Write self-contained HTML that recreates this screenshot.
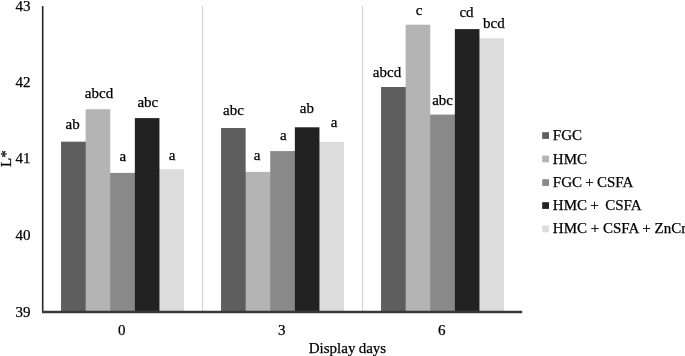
<!DOCTYPE html>
<html><head><meta charset="utf-8"><title>L* chart</title><style>
html,body{margin:0;padding:0;background:#fff;}
body{width:685px;height:356px;overflow:hidden;position:relative;}
svg{position:absolute;left:0;top:0;will-change:transform;}
text{font-family:"Liberation Serif", serif;font-size:15px;fill:#000;stroke:#000;stroke-width:0.25px;word-spacing:-0.5px;}
</style></head><body>
<svg width="685" height="356" viewBox="0 0 685 356">

<line x1="202.60" y1="6" x2="202.60" y2="311.60" stroke="#d2d2d2" stroke-width="1.1"/>
<line x1="362.60" y1="6" x2="362.60" y2="311.60" stroke="#d2d2d2" stroke-width="1.1"/>
<rect x="61.05" y="141.70" width="24.60" height="169.90" fill="#5e5e5e"/>
<rect x="85" y="141.70" width="1" height="169.90" fill="#5e5e5e"/>
<rect x="85.65" y="109.20" width="24.60" height="202.40" fill="#b4b4b4"/>
<rect x="110" y="172.90" width="1" height="138.70" fill="#b4b4b4"/>
<rect x="110.25" y="172.90" width="24.60" height="138.70" fill="#898989"/>
<rect x="134" y="172.90" width="1" height="138.70" fill="#898989"/>
<rect x="134.85" y="118.10" width="24.60" height="193.50" fill="#222222"/>
<rect x="159" y="169.20" width="1" height="142.40" fill="#222222"/>
<rect x="159.45" y="169.20" width="24.60" height="142.40" fill="#dcdcdc"/>
<rect x="221.05" y="128.00" width="24.60" height="183.60" fill="#5e5e5e"/>
<rect x="245" y="171.90" width="1" height="139.70" fill="#5e5e5e"/>
<rect x="245.65" y="171.90" width="24.60" height="139.70" fill="#b4b4b4"/>
<rect x="270" y="171.90" width="1" height="139.70" fill="#b4b4b4"/>
<rect x="270.25" y="151.10" width="24.60" height="160.50" fill="#898989"/>
<rect x="294" y="151.10" width="1" height="160.50" fill="#898989"/>
<rect x="294.85" y="127.30" width="24.60" height="184.30" fill="#222222"/>
<rect x="319" y="141.90" width="1" height="169.70" fill="#222222"/>
<rect x="319.45" y="141.90" width="24.60" height="169.70" fill="#dcdcdc"/>
<rect x="381.05" y="87.00" width="24.60" height="224.60" fill="#5e5e5e"/>
<rect x="405" y="87.00" width="1" height="224.60" fill="#5e5e5e"/>
<rect x="405.65" y="24.70" width="24.60" height="286.90" fill="#b4b4b4"/>
<rect x="430" y="114.60" width="1" height="197.00" fill="#b4b4b4"/>
<rect x="430.25" y="114.60" width="24.60" height="197.00" fill="#898989"/>
<rect x="454" y="114.60" width="1" height="197.00" fill="#898989"/>
<rect x="454.85" y="29.10" width="24.60" height="282.50" fill="#222222"/>
<rect x="479" y="38.20" width="1" height="273.40" fill="#222222"/>
<rect x="479.45" y="38.20" width="24.60" height="273.40" fill="#dcdcdc"/>
<line x1="42.7" y1="6" x2="42.7" y2="312.5" stroke="#262626" stroke-width="1.6"/>
<line x1="42" y1="312" x2="522.2" y2="312" stroke="#383838" stroke-width="2.3"/>
<text x="30.6" y="10.70" text-anchor="end">43</text>
<text x="30.6" y="86.80" text-anchor="end">42</text>
<text x="30.6" y="162.90" text-anchor="end">41</text>
<text x="30.6" y="239.80" text-anchor="end">40</text>
<text x="30.6" y="316.80" text-anchor="end">39</text>
<text x="121.80" y="334.6" text-anchor="middle">0</text>
<text x="281.80" y="334.6" text-anchor="middle">3</text>
<text x="441.80" y="334.6" text-anchor="middle">6</text>
<text x="72.60" y="128.80" text-anchor="middle">ab</text>
<text x="99.00" y="97.60" text-anchor="middle">abcd</text>
<text x="122.90" y="161.10" text-anchor="middle">a</text>
<text x="147.80" y="106.60" text-anchor="middle">abc</text>
<text x="172.20" y="160.20" text-anchor="middle">a</text>
<text x="233.50" y="114.70" text-anchor="middle">abc</text>
<text x="257.20" y="159.50" text-anchor="middle">a</text>
<text x="283.40" y="139.60" text-anchor="middle">a</text>
<text x="306.90" y="112.50" text-anchor="middle">ab</text>
<text x="334.00" y="126.70" text-anchor="middle">a</text>
<text x="387.00" y="77.40" text-anchor="middle">abcd</text>
<text x="419.20" y="14.60" text-anchor="middle">c</text>
<text x="442.60" y="105.30" text-anchor="middle">abc</text>
<text x="466.50" y="17.30" text-anchor="middle">cd</text>
<text x="493.90" y="27.80" text-anchor="middle">bcd</text>
<text x="347.5" y="353.3" text-anchor="middle">Display days</text>
<text transform="translate(10.8,158.6) rotate(-90)" text-anchor="middle">L*</text>
<rect x="542.2" y="132.20" width="6.8" height="6.7" fill="#5e5e5e"/>
<text x="552.8" y="140.00" xml:space="preserve">FGC</text>
<rect x="542.2" y="155.60" width="6.8" height="6.7" fill="#b4b4b4"/>
<text x="552.8" y="163.60" xml:space="preserve">HMC</text>
<rect x="542.2" y="179.20" width="6.8" height="6.7" fill="#898989"/>
<text x="552.8" y="187.00" xml:space="preserve">FGC + CSFA</text>
<rect x="542.2" y="202.20" width="6.8" height="6.7" fill="#222222"/>
<text x="552.8" y="210.00" xml:space="preserve">HMC +  CSFA</text>
<rect x="542.2" y="225.60" width="6.8" height="6.7" fill="#dcdcdc"/>
<text x="552.8" y="232.80" xml:space="preserve" style="word-spacing:0">HMC + CSFA + ZnCr</text>
</svg></body></html>
